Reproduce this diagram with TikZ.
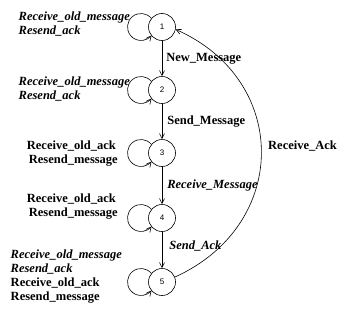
\documentclass[tikz,border=0pt]{standalone}
\usepackage{fontspec}
\setmainfont{Liberation Serif}
\newfontfamily\numfont{Liberation Sans}
\usetikzlibrary{arrows.meta}
\begin{document}
\begin{tikzpicture}[x=1pt,y=1pt,
  state/.style={circle,draw,line width=0.6pt,minimum size=27pt,inner sep=0pt,font=\numfont\fontsize{8}{8}\selectfont},
  trans/.style={line width=0.6pt,-{Straight Barb[length=5pt,width=5pt]}},
  lab/.style={font=\bfseries\fontsize{12.5}{14}\selectfont,inner sep=0pt},
  ilab/.style={font=\bfseries\itshape\fontsize{12.5}{14}\selectfont,inner sep=0pt},
  llab/.style={font=\bfseries\fontsize{12.5}{14}\selectfont,inner sep=0pt,align=left,anchor=east}]
\useasboundingbox (0,0) rectangle (345,317);
\node[state] (n1) at (162,290) {1};
\node[state] (n2) at (162,227) {2};
\node[state] (n3) at (162,164) {3};
\node[state] (n4) at (162,99) {4};
\node[state] (n5) at (162,35) {5};
% self loops
\foreach \n in {n1,n2,n3,n4,n5}{
  \draw[trans] ([shift={(-10.5,8.5)}]\n.center) arc[start angle=39,end angle=321,radius=13.5];
}
% main transitions
\draw[trans] (n1) -- node[lab,anchor=west,xshift=4pt] {New\_Message} (n2);
\draw[trans] (n2) -- node[lab,anchor=west,xshift=5pt] {Send\_Message} (n3);
\draw[trans] (n3) -- node[ilab,anchor=west,xshift=5pt] {Receive\_Message} (n4);
\draw[trans] (n4) -- node[ilab,anchor=west,xshift=7pt,yshift=4pt] {Send\_Ack} (n5);
\draw[trans] (n5.21) .. controls (290,92) and (290,237) .. (n1.-10);
\node[lab,anchor=west] (ra) at (268,171) {Receive\_Ack};
% left labels
\node[llab,font=\bfseries\itshape\fontsize{12.5}{14}\selectfont] (l1) at (130,293) {Receive\_old\_message\\Resend\_ack};
\node[llab,font=\bfseries\itshape\fontsize{12.5}{14}\selectfont] (l2) at (130,228) {Receive\_old\_message\\Resend\_ack};
\node[llab] (l3) at (118,163) {Receive\_old\_ack\\\hspace{2pt}Resend\_message};
\node[llab] (l4) at (118,110) {Receive\_old\_ack\\\hspace{2pt}Resend\_message};
\node[llab] (l5) at (122,40) {{\itshape Receive\_old\_message}\\{\itshape Resend\_ack}\\Receive\_old\_ack\\Resend\_message};
\end{tikzpicture}
\end{document}
